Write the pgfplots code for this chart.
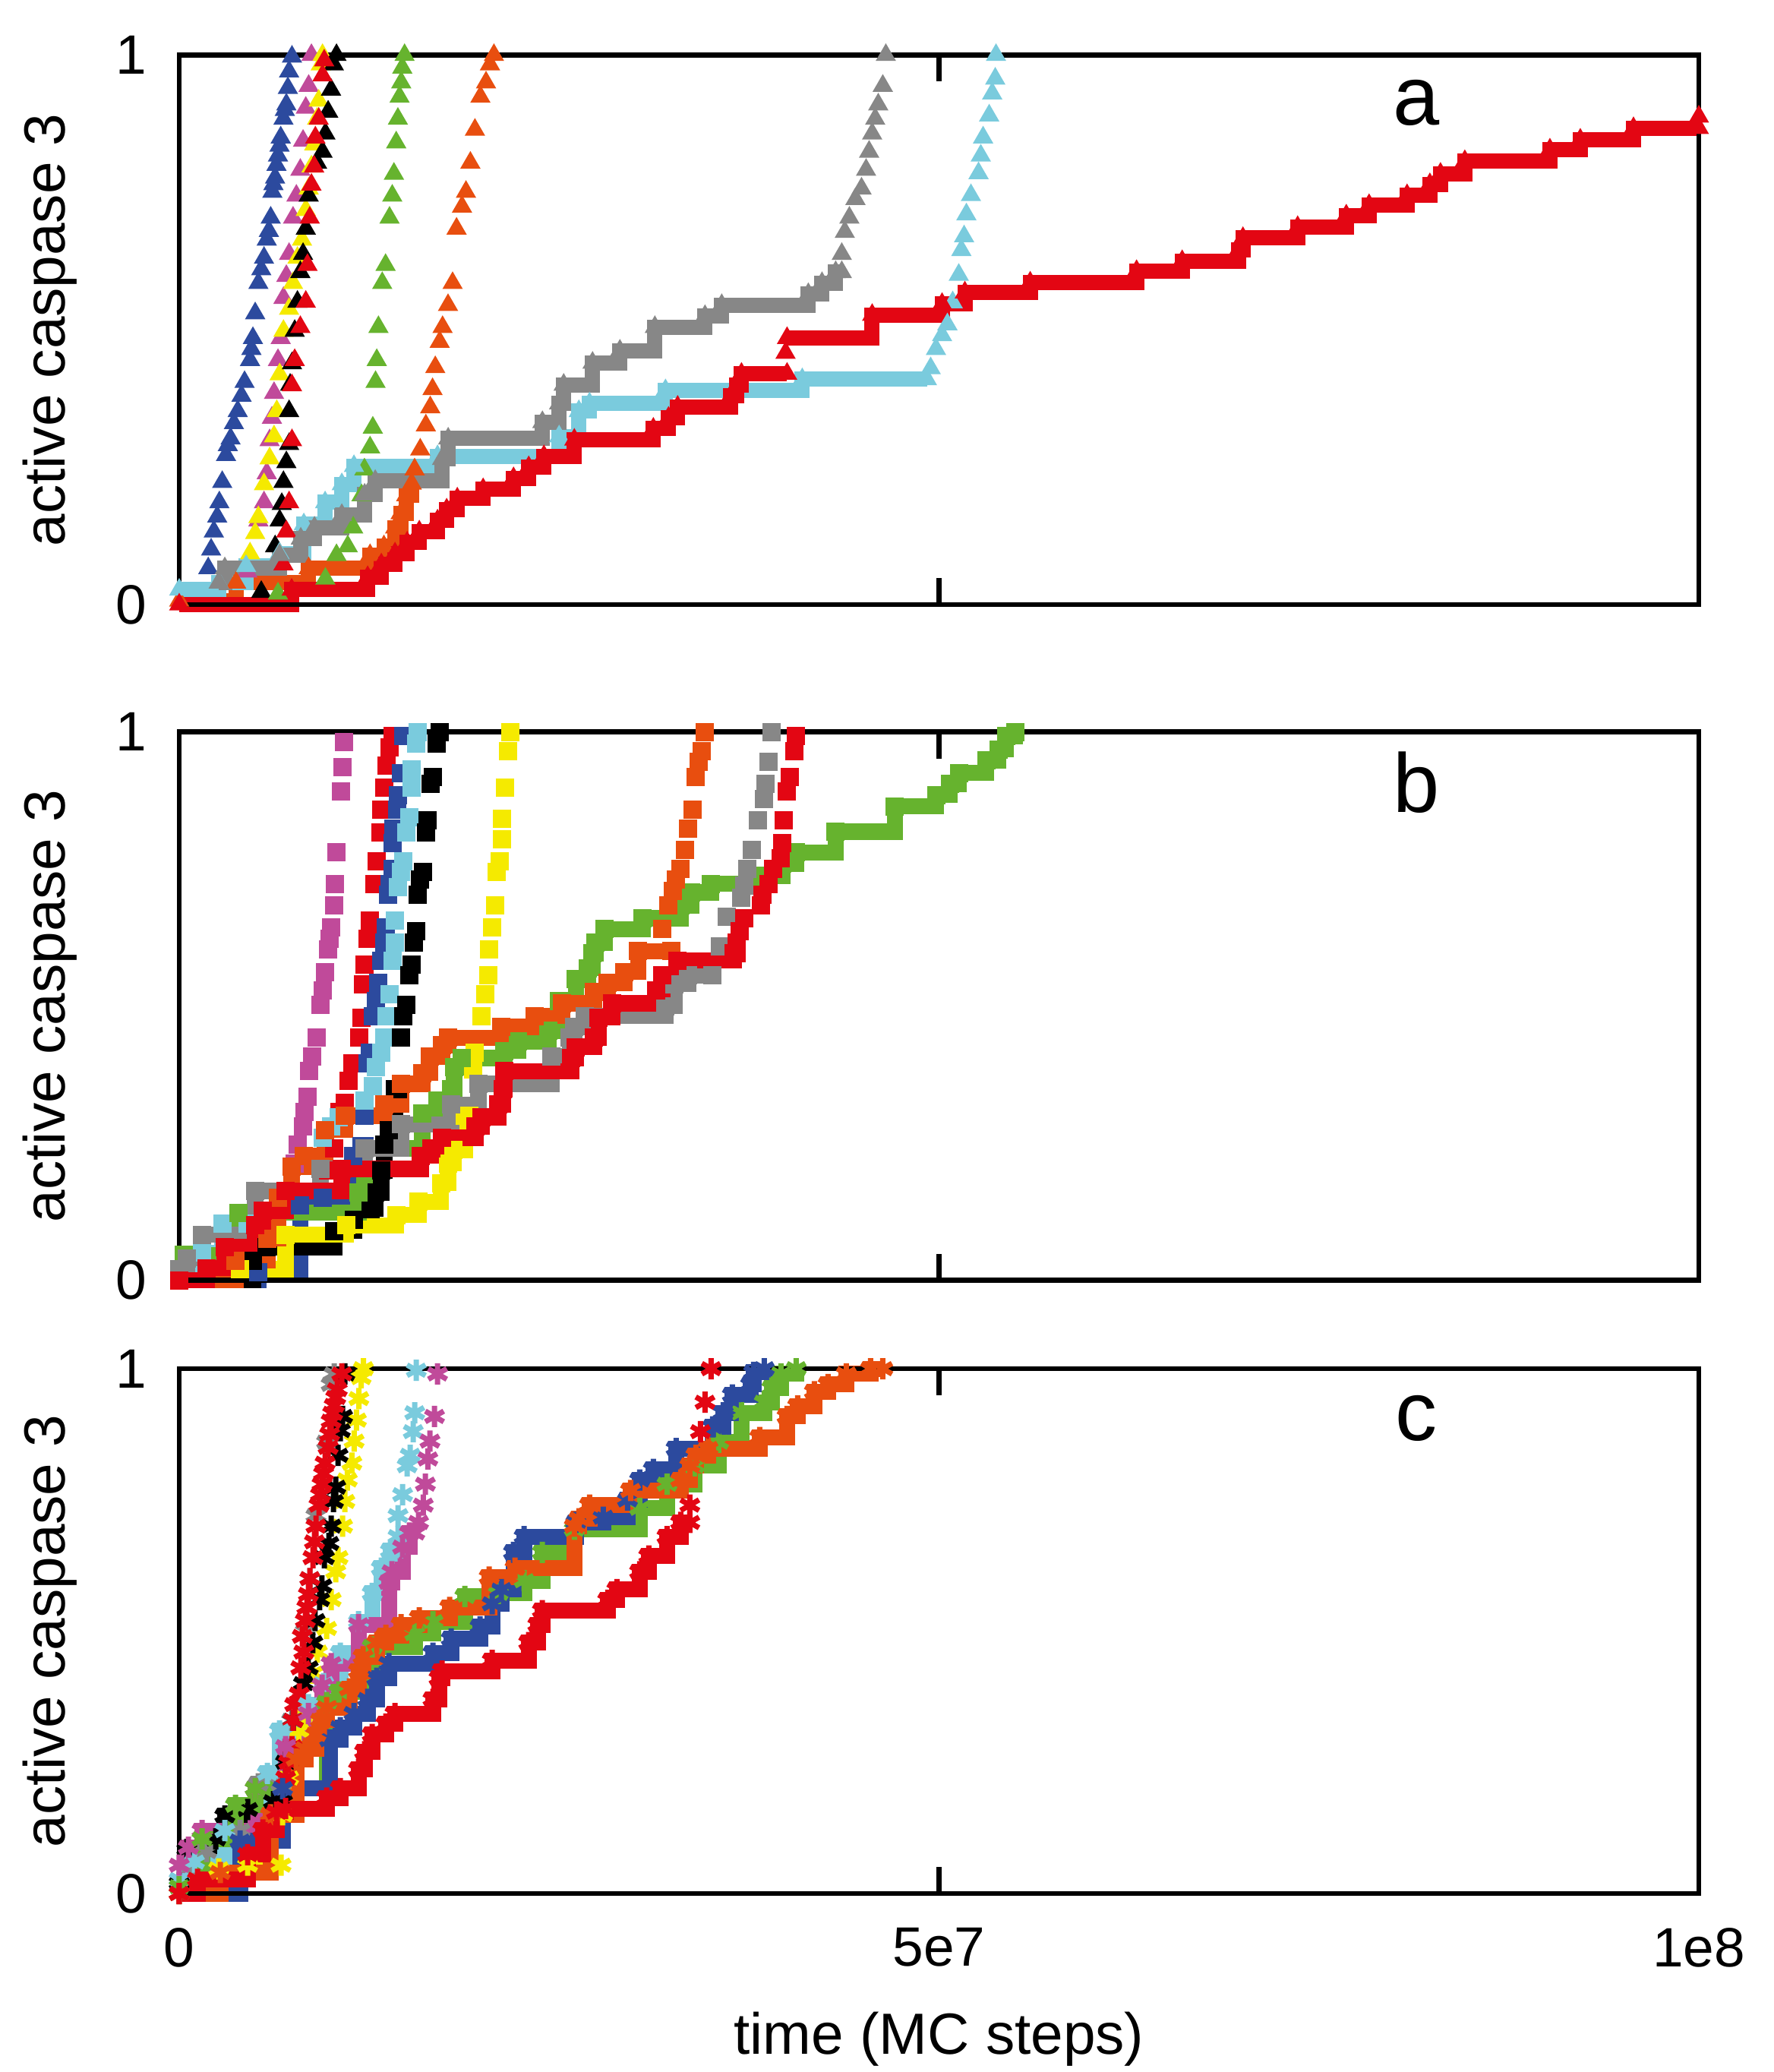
\documentclass[border=0pt]{standalone}
\usepackage{fontspec}
\setmainfont{Liberation Sans}
\usepackage{pgfplots}
\pgfplotsset{compat=1.18}
\definecolor{cblue}{RGB}{44,74,158}
\definecolor{cmag}{RGB}{192,74,154}
\definecolor{cyel}{RGB}{245,234,0}
\definecolor{cred}{RGB}{227,6,19}
\definecolor{cgreen}{RGB}{102,179,46}
\definecolor{corange}{RGB}{232,78,15}
\definecolor{cgray}{RGB}{135,135,135}
\definecolor{ccyan}{RGB}{122,203,221}
\pgfplotsset{
 panel/.style={scale only axis, width=400.2pt, xmin=0, xmax=100, ymin=0, ymax=1,
   axis on top, clip=false, axis line style={line width=1.3pt},
   xtick={0,50,100}, ytick={0,1}, yticklabels={0,1}, xticklabels={},
   x tick style={line width=1.3pt, black}, major tick length=7pt, tick align=inside,
   ytick style={draw=none}, scaled x ticks=false,
   tick label style={font=\fontsize{14.6}{17}\selectfont},
   yticklabel style={xshift=-5pt},
   ylabel={active caspase 3},
   ylabel style={font=\fontsize{15.3}{18}\selectfont, at={(axis description cs:-0.085,0.5)}, anchor=center},
 },
 sa/.style={const plot, line width=4pt, mark=triangle*, mark size=2.7pt, mark options={line width=0.4pt}},
 ma/.style={only marks, mark=triangle*, mark size=2.7pt, mark options={line width=0.4pt}},
 sb/.style={const plot, line width=4.3pt, mark=square*, mark size=2.2pt, mark options={line width=0.4pt}},
 mb/.style={only marks, mark=square*, mark size=2.2pt, mark options={line width=0.4pt}},
 sc/.style={const plot, line width=4.2pt, mark=asterisk, mark size=2.8pt, mark options={line width=1.4pt}},
 mc/.style={only marks, mark=asterisk, mark size=2.8pt, mark options={line width=1.4pt}},
}
\begin{document}
\begin{tikzpicture}
\useasboundingbox (0,0) rectangle (467pt,-545.6pt);
% ---------------- panel a ----------------
\begin{axis}[panel, at={(47.2pt,-14.5pt)}, anchor=north west, height=144.7pt]
\addplot[ma, color=cblue] coordinates {(1.91,0.066)(2.1,0.1)(2.28,0.133)(2.5,0.16)(2.64,0.186)(2.83,0.223)(3.08,0.272)(3.2,0.29)(3.38,0.302)(3.6,0.33)(3.85,0.352)(4.1,0.38)(4.30,0.405)(4.66,0.445)(4.75,0.465)(4.85,0.485)(5.0,0.53)(5.21,0.585)(5.4,0.61)(5.58,0.631)(5.76,0.664)(5.9,0.68)(6.02,0.704)(6.13,0.751)(6.2,0.765)(6.31,0.777)(6.4,0.8)(6.50,0.817)(6.6,0.835)(6.68,0.850)(6.86,0.884)(6.95,0.9)(7.05,0.910)(7.15,0.94)(7.23,0.970)(7.42,0.997)};
\addplot[ma, color=cmag] coordinates {(4.48,0.060)(5.21,0.153)(5.58,0.186)(5.76,0.239)(5.95,0.299)(6.1,0.34)(6.24,0.385)(6.50,0.445)(6.68,0.485)(6.86,0.558)(7.05,0.598)(7.23,0.638)(7.49,0.704)(7.71,0.744)(7.97,0.791)(8.15,0.844)(8.33,0.904)(8.52,0.944)(8.70,1.0)};
\addplot[ma, color=cyel] coordinates {(4.66,0.093)(5.0,0.13)(5.21,0.159)(5.58,0.219)(5.95,0.266)(6.24,0.306)(6.42,0.352)(6.61,0.419)(6.86,0.498)(7.23,0.538)(7.49,0.585)(7.78,0.631)(8.08,0.664)(8.33,0.718)(8.52,0.757)(8.70,0.797)(8.88,0.837)(9.07,0.884)(9.18,0.917)(9.32,0.983)(9.43,1.0)};
\addplot[ma, color=black] coordinates {(5.40,0.023)(6.31,0.106)(6.61,0.153)(6.75,0.183)(6.86,0.223)(7.05,0.259)(7.23,0.292)(7.23,0.352)(7.3,0.4)(7.42,0.439)(7.60,0.498)(7.78,0.551)(7.97,0.605)(8.15,0.638)(8.33,0.684)(8.52,0.744)(9.07,0.804)(9.43,0.824)(9.62,0.857)(9.80,0.897)(9.99,0.937)(10.17,0.983)(10.35,1.0)};
\addplot[ma, color=cred] coordinates {(6.86,0.073)(7.05,0.133)(7.23,0.186)(7.42,0.299)(7.42,0.399)(7.60,0.445)(7.97,0.505)(8.33,0.551)(8.44,0.618)(8.59,0.704)(8.70,0.764)(8.88,0.797)(8.96,0.850)(9.18,0.884)(9.43,0.963)(9.54,0.990)};
\addplot[ma, color=cgreen] coordinates {(6.5,0.02)(9.62,0.047)(10.35,0.090)(11.09,0.106)(11.45,0.140)(12.0,0.199)(12.19,0.246)(12.56,0.286)(12.74,0.322)(12.92,0.405)(13.0,0.445)(13.11,0.505)(13.36,0.585)(13.58,0.618)(13.84,0.704)(14.02,0.744)(14.13,0.784)(14.28,0.841)(14.39,0.884)(14.50,0.924)(14.61,0.950)(14.68,0.977)(14.83,1.0)};
\addplot[sa, color=corange] coordinates {(0,0.007)(3.74,0.040)(8.52,0.066)(12.56,0.090)(13.47,0.106)(14.21,0.140)(14.57,0.166)(14.94,0.199)(15.3,0.22)};
\addplot[ma, color=corange] coordinates {(15.49,0.246)(15.86,0.282)(16.23,0.326)(16.52,0.359)(16.67,0.392)(16.85,0.432)(17.14,0.478)(17.33,0.505)(17.69,0.545)(17.99,0.585)(18.25,0.684)(18.61,0.724)(18.87,0.751)(19.16,0.804)(19.46,0.864)(19.82,0.924)(20.19,0.950)(20.45,0.983)(20.71,1.0)};
\addplot[sa, color=ccyan] coordinates {(0,0.027)(2.6,0.04)(4.4,0.07)(6.6,0.093)(8.2,0.146)(9.6,0.186)(10.7,0.219)(11.5,0.252)(17.0,0.27)(25.0,0.306)(26.3,0.352)(27.0,0.366)(32.0,0.39)(41.0,0.41)(49.2,0.41)};
\addplot[ma, color=ccyan] coordinates {(49.45,0.43)(49.8,0.465)(50.2,0.49)(50.55,0.51)(50.9,0.55)(51.3,0.6)(51.47,0.645)(51.65,0.67)(51.8,0.71)(52.1,0.745)(52.6,0.785)(52.75,0.817)(52.9,0.85)(53.3,0.89)(53.5,0.93)(53.7,0.957)(53.75,1.0)};
\addplot[sa, color=cgray] coordinates {(2.6,0.04)(3.0,0.066)(6.6,0.09)(8.0,0.12)(8.9,0.14)(10.7,0.163)(12.2,0.2)(12.9,0.225)(17.3,0.265)(17.7,0.302)(23.9,0.332)(25.0,0.366)(25.3,0.4)(27.2,0.44)(29.0,0.462)(31.3,0.505)(34.6,0.525)(35.7,0.545)(41.4,0.565)(42.3,0.585)(43.2,0.605)(43.6,0.605)};
\addplot[ma, color=cgray] coordinates {(43.6,0.638)(43.8,0.678)(44.1,0.704)(44.5,0.738)(44.9,0.757)(45.2,0.791)(45.4,0.824)(45.6,0.857)(45.8,0.884)(46.0,0.910)(46.3,0.944)(46.5,1.0)};
\addplot[sa, color=cred] coordinates {(0,0)(7.4,0.027)(12.4,0.05)(13.3,0.073)(14.2,0.093)(15.0,0.113)(15.8,0.133)(17.0,0.153)(17.6,0.173)(18.3,0.193)(20.0,0.21)(22.0,0.23)(23.0,0.25)(24.0,0.27)(26.0,0.30)(31.2,0.32)(32.2,0.34)(32.8,0.36)(36.3,0.38)(36.7,0.40)(37.0,0.42)(40.0,0.42)};
\addplot[sa, color=cred] coordinates {(40.0,0.485)(45.6,0.527)(50.2,0.547)(51.7,0.568)(56.0,0.586)(63.0,0.607)(66.0,0.625)(69.7,0.645)(70.0,0.667)(73.6,0.687)(76.8,0.708)(78.3,0.727)(80.8,0.745)(82.3,0.765)(83.0,0.784)(84.6,0.807)(90.2,0.828)(92.2,0.846)(95.7,0.867)(100,0.867)};
\addplot[ma, color=cred] coordinates {(39.9,0.458)(100,0.888)};
\node[font=\fontsize{22}{26}\selectfont] at (axis cs:81.4,0.913) {a};
\end{axis}
% ---------------- panel b ----------------
\begin{axis}[panel, at={(47.2pt,-192.7pt)}, anchor=north west, height=144.4pt]
\addplot[mb, color=cmag] coordinates {(7.6,0.213)(7.78,0.247)(8.15,0.281)(8.26,0.307)(8.45,0.334)(8.55,0.381)(8.77,0.408)(9.07,0.442)(9.32,0.502)(9.43,0.529)(9.62,0.562)(9.8,0.603)(9.91,0.623)(9.99,0.643)(10.17,0.683)(10.24,0.723)(10.35,0.781)(10.65,0.891)(10.72,0.935)(10.83,0.982)};
\addplot[mb, color=cred] coordinates {(9.8,0.2)(10.17,0.240)(10.54,0.307)(10.9,0.324)(11.16,0.364)(11.38,0.395)(11.82,0.442)(12.0,0.479)(12.11,0.539)(12.19,0.576)(12.37,0.623)(12.56,0.656)(12.85,0.723)(13.0,0.764)(13.22,0.817)(13.29,0.858)(13.47,0.898)(13.66,0.938)(13.84,0.972)(14.02,0.992)};
\addplot[sb, color=cblue] coordinates {(0,0)(5.2,0.015)(7.96,0.136)(9.43,0.15)(11.45,0.227)(12.0,0.244)(12.2,0.244)};
\addplot[mb, color=cblue] coordinates {(12.2,0.3)(12.37,0.395)(12.56,0.415)(12.74,0.482)(12.92,0.509)(13.11,0.542)(13.29,0.583)(13.47,0.616)(13.58,0.643)(13.73,0.703)(13.84,0.723)(14.02,0.75)(14.02,0.797)(14.1,0.824)(14.32,0.858)(14.39,0.885)(14.57,0.925)(14.76,0.992)};
\addplot[sb, color=ccyan] coordinates {(0,0.02)(1.5,0.05)(2.83,0.103)(4.5,0.103)};
\addplot[mb, color=ccyan] coordinates {(9.43,0.26)(9.99,0.281)(10.5,0.297)(12.19,0.328)(12.74,0.354)(12.92,0.388)(13.29,0.415)(13.47,0.442)(13.66,0.482)(13.84,0.522)(14.02,0.583)(14.21,0.616)(14.21,0.656)(14.39,0.717)(14.57,0.744)(14.76,0.764)(14.94,0.817)(15.12,0.844)(15.31,0.898)(15.31,0.932)(15.57,0.979)(15.68,1.0)};
\addplot[sb, color=black] coordinates {(0,0)(4.85,0.036)(5.76,0.06)(10.2,0.09)(11.5,0.11)(12.6,0.13)(12.9,0.16)(13.3,0.2)(13.5,0.247)(13.8,0.274)(14.2,0.348)(14.4,0.348)};
\addplot[mb, color=black] coordinates {(14.57,0.442)(14.76,0.482)(14.94,0.502)(15.12,0.556)(15.31,0.576)(15.42,0.616)(15.57,0.636)(15.68,0.703)(15.86,0.73)(16.04,0.744)(16.23,0.817)(16.34,0.838)(16.52,0.905)(16.67,0.918)(16.96,0.979)(17.14,1.0)};
\addplot[sb, color=cyel] coordinates {(4.0,0.02)(7.0,0.083)(10.98,0.1)(14.28,0.119)(15.75,0.143)(17.22,0.177)(17.7,0.213)(18.06,0.237)(18.8,0.3)(19.1,0.3)};
\addplot[mb, color=cyel] coordinates {(19.35,0.385)(19.46,0.415)(19.9,0.482)(20.15,0.522)(20.34,0.556)(20.41,0.603)(20.6,0.643)(20.8,0.683)(20.9,0.744)(21.07,0.764)(21.26,0.804)(21.26,0.841)(21.44,0.898)(21.62,0.965)(21.8,0.999)};
\addplot[sb, color=cgreen] coordinates {(0,0.02)(0.3,0.046)(3.9,0.123)(11.8,0.16)(12.2,0.24)(16.0,0.304)(17.0,0.328)(17.9,0.348)(18.1,0.388)(18.6,0.405)(21.4,0.418)(22.3,0.435)(24.3,0.455)(25.0,0.509)(26.1,0.549)(26.9,0.569)(27.2,0.596)(27.4,0.616)(28.0,0.64)(30.5,0.66)(33.0,0.683)(33.7,0.707)(35.0,0.723)(38.3,0.737)(39.7,0.76)(40.6,0.78)(43.2,0.818)(47.1,0.864)(49.8,0.885)(50.7,0.905)(51.3,0.925)(53.1,0.948)(53.9,0.968)(54.4,0.992)(55.0,1.0)};
\addplot[sb, color=corange] coordinates {(0,0)(3.7,0.036)(5.8,0.076)(6.5,0.15)(7.4,0.207)(8.2,0.227)(9.6,0.274)(10.9,0.3)(13.5,0.32)(14.6,0.358)(16.0,0.378)(16.5,0.408)(17.3,0.428)(17.7,0.442)(21.2,0.462)(23.4,0.482)(25.2,0.505)(27.3,0.525)(28.2,0.542)(29.3,0.562)(30.2,0.6)(32.4,0.6)};
\addplot[mb, color=corange] coordinates {(31.8,0.64)(32.2,0.683)(32.5,0.71)(32.7,0.73)(33.0,0.75)(33.3,0.784)(33.5,0.824)(33.8,0.858)(34.0,0.918)(34.2,0.945)(34.4,0.965)(34.6,0.999)};
\addplot[sb, color=cgray] coordinates {(0,0.02)(0.5,0.04)(1.5,0.083)(5.0,0.163)(9.3,0.203)(12.2,0.24)(14.6,0.284)(17.9,0.32)(19.7,0.358)(24.5,0.408)(25.7,0.442)(26.0,0.462)(26.7,0.482)(32.0,0.5)(32.6,0.54)(33.5,0.556)(35.1,0.556)};
\addplot[mb, color=cgray] coordinates {(35.6,0.609)(36.05,0.663)(36.97,0.697)(37.2,0.72)(37.4,0.75)(37.7,0.784)(38.07,0.838)(38.5,0.877)(38.6,0.905)(38.8,0.945)(39.0,0.999)};
\addplot[sb, color=cred] coordinates {(0,0)(1.8,0.022)(3.0,0.06)(5.0,0.1)(5.5,0.127)(7.0,0.163)(10.7,0.203)(15.9,0.227)(16.6,0.24)(17.3,0.26)(19.5,0.28)(19.9,0.297)(21.0,0.32)(21.3,0.348)(21.4,0.381)(25.8,0.405)(26.1,0.425)(27.3,0.442)(27.6,0.479)(28.5,0.505)(31.4,0.529)(31.8,0.556)(32.8,0.583)(36.5,0.596)(36.7,0.596)};
\addplot[mb, color=cred] coordinates {(36.7,0.616)(36.9,0.636)(37.2,0.66)(38.3,0.683)(38.4,0.703)(38.8,0.723)(39.1,0.75)(39.6,0.77)(39.7,0.797)(39.8,0.838)(40.0,0.891)(40.2,0.918)(40.5,0.965)(40.6,0.992)};
\node[font=\fontsize{22}{26}\selectfont] at (axis cs:81.4,0.907) {b};
\end{axis}
% ---------------- panel c ----------------
\begin{axis}[panel, at={(47.2pt,-360.4pt)}, anchor=north west, height=138.2pt,
  xticklabels={0,5e7,1e8}, xticklabel style={yshift=-5.5pt},
  xlabel={time (MC steps)},
  xlabel style={font=\fontsize{15.3}{18}\selectfont, at={(axis description cs:0.5,-0.278)}, anchor=center}]
\addplot[sc, color=cyel] coordinates {(0,0)(2.6,0.047)(4.5,0.054)(6.7,0.054)};
\addplot[mc, color=cyel] coordinates {(6.8,0.15)(7.2,0.22)(7.88,0.31)(8.18,0.34)(8.79,0.42)(9.09,0.46)(9.7,0.505)(10.0,0.56)(10.3,0.613)(10.45,0.64)(10.75,0.7)(10.9,0.747)(11.06,0.788)(11.36,0.82)(11.51,0.862)(11.66,0.902)(11.82,0.943)(11.97,0.983)(12.12,1.0)};
\addplot[sc, color=cgray] coordinates {(0,0.02)(0.5,0.05)(1.8,0.08)(4.0,0.12)(5.2,0.209)(6.7,0.209)};
\addplot[mc, color=cgray] coordinates {(7.0,0.25)(7.4,0.33)(8.3,0.5)(8.6,0.6)(9.0,0.72)(9.7,0.86)(10.0,0.97)(10.2,0.99)};
\addplot[sc, color=black] coordinates {(0,0.02)(0.5,0.084)(2.4,0.104)(3.0,0.148)(4.5,0.16)(6.2,0.175)(6.8,0.175)};
\addplot[mc, color=black] coordinates {(7.0,0.25)(7.5,0.33)(8.18,0.4)(8.49,0.43)(8.79,0.478)(8.94,0.52)(9.24,0.56)(9.39,0.586)(9.55,0.64)(9.85,0.667)(10.0,0.7)(10.15,0.747)(10.3,0.774)(10.45,0.835)(10.6,0.882)(10.75,0.909)(10.9,0.99)};
\addplot[mc, color=cred] coordinates {(7.0,0.22)(7.2,0.25)(7.42,0.28)(7.5,0.33)(7.6,0.36)(7.9,0.38)(8.0,0.43)(8.1,0.49)(8.2,0.46)(8.3,0.52)(8.4,0.545)(8.5,0.57)(8.6,0.6)(8.8,0.64)(8.9,0.67)(9.0,0.7)(9.2,0.74)(9.3,0.76)(9.4,0.78)(9.5,0.8)(9.6,0.82)(9.8,0.85)(9.9,0.875)(10.0,0.9)(10.1,0.915)(10.2,0.93)(10.3,0.945)(10.4,0.96)(10.7,0.99)};
\addplot[sc, color=ccyan] coordinates {(0,0.027)(1.0,0.06)(3.0,0.12)(5.8,0.229)(6.6,0.31)(8.5,0.36)(9.5,0.4)(10.6,0.458)(11.8,0.518)(12.7,0.572)(13.3,0.62)(13.9,0.653)(14.2,0.653)};
\addplot[mc, color=ccyan] coordinates {(14.4,0.68)(14.4,0.72)(14.7,0.76)(15.0,0.815)(15.2,0.835)(15.4,0.88)(15.5,0.916)(15.6,0.997)};
\addplot[sc, color=cmag] coordinates {(0,0.054)(0.6,0.088)(1.5,0.12)(5.0,0.2)(7.0,0.28)(8.5,0.343)(9.4,0.397)(10.0,0.438)(11.8,0.512)(13.8,0.593)(14.0,0.613)(14.7,0.66)(15.15,0.687)(15.5,0.687)};
\addplot[mc, color=cmag] coordinates {(15.75,0.707)(16.06,0.74)(16.2,0.78)(16.36,0.828)(16.5,0.862)(16.8,0.909)(17.0,0.99)};
\addplot[sc, color=cgreen] coordinates {(0,0.013)(1.5,0.104)(3.7,0.168)(5.0,0.2)(9.7,0.364)(10.5,0.384)(12.7,0.47)(15.5,0.495)(16.7,0.518)(18.8,0.566)(21.0,0.572)(22.7,0.596)(23.9,0.65)(26.0,0.694)(30.3,0.734)(32.1,0.78)(33.9,0.815)(35.5,0.86)(37.0,0.916)(38.5,0.936)(39.0,0.963)(39.6,0.99)(40.6,1.0)};
\addplot[sc, color=cblue] coordinates {(0,0)(4.0,0.1)(6.8,0.2)(9.9,0.293)(10.6,0.316)(11.5,0.343)(12.4,0.37)(13.0,0.41)(13.8,0.438)(16.7,0.458)(17.9,0.485)(19.8,0.508)(20.6,0.552)(21.2,0.579)(22.0,0.65)(22.7,0.68)(26.1,0.707)(27.9,0.717)(29.5,0.75)(30.3,0.788)(31.2,0.808)(32.7,0.848)(35.1,0.889)(35.8,0.916)(36.4,0.95)(37.6,0.97)(37.8,0.993)(38.5,1.0)};
\addplot[sc, color=corange] coordinates {(0,0)(2.7,0.04)(6.0,0.15)(7.7,0.256)(8.3,0.276)(9.0,0.303)(9.3,0.33)(9.7,0.354)(11.2,0.39)(11.8,0.424)(12.1,0.451)(13.0,0.478)(13.6,0.492)(14.6,0.512)(15.8,0.525)(17.8,0.545)(20.4,0.603)(22.1,0.62)(26.0,0.7)(26.3,0.714)(27.0,0.74)(29.7,0.768)(33.0,0.788)(33.6,0.815)(34.0,0.835)(34.8,0.848)(38.2,0.869)(40.0,0.909)(40.7,0.929)(41.8,0.956)(42.7,0.97)(43.9,0.99)(45.5,1.0)(46.3,1.0)};
\addplot[sc, color=cred] coordinates {(0,0)(1.2,0.027)(4.5,0.074)(5.5,0.121)(6.4,0.155)(7.0,0.162)(9.7,0.182)(10.6,0.2)(11.8,0.236)(12.2,0.27)(12.7,0.303)(13.6,0.323)(14.2,0.343)(16.7,0.37)(17.1,0.41)(17.3,0.424)(20.6,0.444)(23.0,0.478)(23.6,0.512)(23.9,0.539)(28.2,0.559)(28.8,0.579)(30.3,0.613)(30.9,0.643)(32.1,0.68)(33.0,0.707)(33.6,0.707)};
\addplot[mc, color=cred] coordinates {(33.6,0.74)(34.3,0.88)(34.6,0.936)(35.0,1.0)};
\node[font=\fontsize{22}{26}\selectfont] at (axis cs:81.4,0.905) {c};
\end{axis}
\end{tikzpicture}
\end{document}
